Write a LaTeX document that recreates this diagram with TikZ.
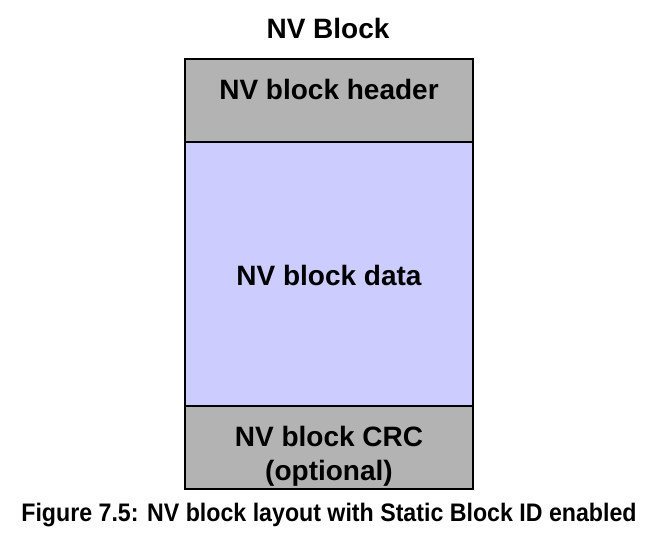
\documentclass[tikz,border=0pt]{standalone}
\usepackage{fontspec}
\setmainfont{Liberation Sans}
\usepackage{graphicx}
\usetikzlibrary{positioning}
\definecolor{nvgray}{RGB}{179,179,179}
\definecolor{nvblue}{RGB}{204,204,255}

\begin{document}
\begin{tikzpicture}[x=0.75pt,y=-0.75pt,
  part/.style={draw=black,line width=1.2pt,minimum width=216pt,inner sep=0pt,outer sep=0pt},
  lbl/.style={font=\bfseries\fontsize{21}{25.5}\selectfont,align=center}]
  \useasboundingbox (0,0) rectangle (668,543);
  % block layout
  \node[part,fill=nvgray,minimum height=62.25pt,anchor=north west] (hdr) at (185,59) {};
  \node[part,fill=nvblue,minimum height=198pt,below=0pt of hdr] (dat) {};
  \node[part,fill=nvgray,minimum height=62.25pt,below=0pt of dat] (crc) {};
  % texts
  \node[lbl] (title) at (328,28) {NV Block};
  \node[lbl] (hdrtxt) at (329,89) {NV block header};
  \node[lbl] (dattxt) at (329,275) {NV block data};
  \node[lbl] (crctxt) at (329,456) {NV block CRC\\(optional)};
  \node[font=\bfseries\fontsize{19}{22}\selectfont] (caption) at (329,515)
    {\scalebox{0.915}[1]{Figure 7.5: NV block layout with Static Block ID enabled}};
\end{tikzpicture}
\end{document}
